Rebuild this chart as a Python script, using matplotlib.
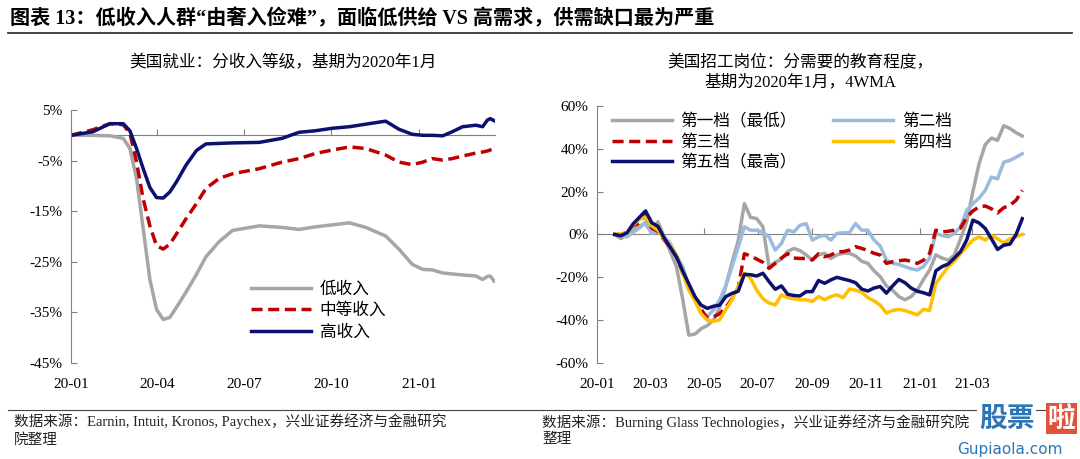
import matplotlib.pyplot as plt
import matplotlib.dates as mdates
import numpy as np
import pandas as pd

plt.rcParams['font.family'] = ['Liberation Serif', 'Noto Sans CJK SC']

# ---- left: US employment by income level, index base Jan 2020 (%) ----
emp_dates = pd.to_datetime([
    '2020-01-01', '2020-01-24', '2020-02-11', '2020-02-25', '2020-03-03', '2020-03-10',
    '2020-03-17', '2020-03-24', '2020-03-31', '2020-04-07', '2020-04-14', '2020-04-21',
    '2020-05-01', '2020-05-12', '2020-05-22', '2020-06-05', '2020-06-19', '2020-07-17',
    '2020-08-10', '2020-08-28', '2020-09-14', '2020-10-02', '2020-10-20', '2020-11-06',
    '2020-11-27', '2020-12-11', '2020-12-25', '2021-01-05', '2021-01-15', '2021-01-26',
    '2021-02-05', '2021-02-16', '2021-03-02', '2021-03-09', '2021-03-14', '2021-03-17',
    '2021-03-21'])
emp_low = [0, 0, -0.1, -0.6, -2.6, -8.6, -18.5, -28.5, -34.4, -36.4, -36, -34,
           -31, -27.5, -24, -21, -18.8, -17.9, -18.2, -18.6, -18.1, -17.7, -17.3, -18.2,
           -19.9, -22.5, -25.5, -26.5, -26.6, -27.2, -27.4, -27.6, -27.8, -28.5, -27.9,
           -27.8, -28.8]
emp_mid = [0, 1.1, 2.3, 2.1, 0.4, -5.3, -12.6, -17.9, -21.8, -22.5, -21.5, -19.5,
           -16.5, -13.5, -10.5, -8.5, -7.6, -6.6, -5.3, -4.6, -3.6, -2.9, -2.3, -2.6,
           -3.9, -5.3, -5.8, -5.3, -4.6, -4.9, -4.6, -4.1, -3.5, -3.3, -3.1, -2.9, -2.6]
emp_high = [0, 0.7, 2.3, 2.3, 0.9, -2.6, -6.6, -10.3, -12.3, -12.4, -11.2, -9.2,
            -5.9, -3.0, -1.7, -1.6, -1.5, -1.4, -0.6, 0.6, 0.9, 1.4, 1.7, 2.2,
            2.8, 1.2, 0.2, 0, 0, -0.1, 0.7, 1.7, 2.0, 1.7, 3.0, 3.3, 2.9]
emp_labels = ['低收入', '中等收入', '高收入']
emp_ticks = ['2020-01-01', '2020-04-01', '2020-07-01', '2020-10-01', '2021-01-01']

# ---- right: job postings by required education, 4WMA (%) ----
post_dates = pd.date_range('2020-01-21', periods=67, freq='7D')
post_1 = [0, -1.9, 0, 1.5, 4, 5, 0.5, 5.9, -1, -8, -15, -30, -47, -46.5, -44, -42.5,
          -40, -34, -24, -13, -3, 14.4, 8, 7.4, 3.6, -15, -13, -11.5, -8, -6.5, -7.5,
          -9.5, -11.9, -9.5, -8.8, -11.2, -9.5, -8.8, -8.8, -10, -12.5, -13.5, -17,
          -19.7, -24, -26, -29, -30.5, -29, -26, -21, -16.6, -9.5, -11, -12, -9.6, -2,
          6, 20, 33, 42, 45, 44, 50.8, 49.5, 47.5, 46]
post_2 = [0, -0.5, -1.1, 1, 3, 5.9, 0.5, 1.2, -1, -4.2, -10, -15, -24, -30.5, -36.7,
          -38.3, -35.2, -30.5, -24, -15, -6, 3.6, 2, 2, 1, -1.1, -7.3, -4.2, 2, 1.2,
          4.3, 5.1, -2.6, -1.1, -0.3, -2.6, 0.5, 0.8, 0.8, 5.1, 2, 2, -2.6, -5.4,
          -11.9, -13.5, -14, -15, -16, -16.6, -15, -11, 0.5, -0.5, -1.1, 0.5, 3.6,
          11.3, 14.4, 17, 20.6, 26.8, 26, 33.8, 34.6, 36.1, 37.7]
post_3 = [0, 0, 1, 4, 5.5, 9, 3, 1.5, -2.5, -6, -10.4, -18, -24, -30, -35, -39, -38.5,
          -37, -34, -30, -25, -9, -10, -11.5, -13, -15.8, -13.5, -11, -9, -11, -11.2,
          -11.2, -11.9, -9, -10.4, -9.6, -8.1, -8, -7.3, -5.7, -6.5, -7.5, -8.8, -9.6,
          -13.5, -12.7, -12.3, -11.9, -12.5, -13.5, -12, -8.8, 2, 1.2, 1.5, 2, 3, 8,
          11, 12.9, 13.3, 12, 10.1, 12.5, 13.6, 16, 20.6]
post_4 = [0, 0.2, 0.5, 4.5, 7, 8.2, 4, 2, -2, -5, -9.6, -18, -26, -31, -37, -40, -40.6,
          -39.8, -35, -30.5, -24.3, -18.1, -20.5, -26, -30, -32, -32.9, -28.2, -29.5,
          -30, -30.5, -30.5, -31.3, -29, -30.5, -29, -28.2, -29.5, -25.5, -26, -27,
          -29.5, -31, -33, -36.7, -35.5, -35, -35.5, -36.5, -37.5, -35, -35.5, -22.8,
          -19, -15, -12.5, -9, -5.7, -2.6, -1.1, -2.6, -0.5, -2, -4, -2, -1, 0]
post_5 = [0, -0.6, 0.8, 5, 8, 11, 5.5, 3.8, -1.5, -6, -10.4, -17, -23, -29, -33, -34.5,
          -33.5, -33, -29, -27.5, -26.5, -18.6, -18.8, -19.4, -18.1, -22, -25.6, -24,
          -27.9, -28.5, -28.7, -26.7, -26.7, -21.5, -22.8, -21.2, -20, -20.8, -21.5,
          -22.5, -25.5, -26.4, -25, -24.3, -27.4, -24, -21, -22.5, -25, -26.5, -27.2,
          -28.2, -17, -15, -13.8, -11, -8, -2.6, 6.7, 5.4, 2.8, -2, -7, -5, -4.5, 0, 7.4]
post_labels = ['第一档（最低）', '第二档', '第三档', '第四档', '第五档（最高）']
post_ticks = ['2020-01-01', '2020-03-01', '2020-05-01', '2020-07-01', '2020-09-01',
              '2020-11-01', '2021-01-01', '2021-03-01']

GREY, RED, NAVY = '#A6A6A6', '#C00000', '#0C1170'
LBLUE, GOLD = '#9BBBDE', '#FFC000'
AX_C = '#808080'
DASH = (0, (3.2, 1.6))


def style_axis(ax, ticks, ylim, yticks):
    ax.set_ylim(*ylim)
    ax.set_yticks(yticks)
    ax.set_yticklabels([f'{v}%' for v in yticks], fontsize=11)
    for s in ['top', 'right', 'bottom']:
        ax.spines[s].set_visible(False)
    ax.spines['left'].set_color(AX_C)
    ax.tick_params(axis='y', direction='in', length=4, color=AX_C, pad=6)
    tk = pd.to_datetime(ticks)
    ax.set_xticks(tk)
    ax.xaxis.set_major_formatter(mdates.DateFormatter('%y-%m'))
    ax.tick_params(axis='x', length=0, labelsize=11, pad=11)
    # zero line with small upward ticks
    loc = (0 - ylim[0]) / (ylim[1] - ylim[0])
    sec = ax.secondary_xaxis(loc)
    sec.set_xticks(tk)
    sec.spines['top'].set_color(AX_C)
    sec.spines['bottom'].set_visible(False)
    sec.tick_params(axis='x', direction='out', length=4, color=AX_C, labeltop=False,
                    labelbottom=False)


fig = plt.figure(figsize=(10.8, 4.59), dpi=100)

ax1 = fig.add_axes([0.0657, 0.2092, 0.3926, 0.5511])
ax1.plot(emp_dates, emp_low, color=GREY, lw=2.5, label=emp_labels[0])
ax1.plot(emp_dates, emp_mid, color=RED, lw=2.5, ls=DASH, label=emp_labels[1])
ax1.plot(emp_dates, emp_high, color=NAVY, lw=2.5, label=emp_labels[2])
ax1.set_xlim(pd.Timestamp('2020-01-01'), pd.Timestamp('2021-03-22'))
style_axis(ax1, emp_ticks, (-45, 5), [5, -5, -15, -25, -35, -45])
ax1.legend(loc='lower left', bbox_to_anchor=(0.39, 0.03), frameon=False,
           handlelength=3.6, labelspacing=0.25, handletextpad=0.5,
           prop={'family': ['Noto Sans CJK SC'], 'size': 12})
fig.text(0.262, 0.862, '美国就业：分收入等级，基期为2020年1月', ha='center', va='center',
         fontsize=12)

ax2 = fig.add_axes([0.5528, 0.2092, 0.3954, 0.5599])
ax2.plot(post_dates, post_1, color=GREY, lw=2.5)
ax2.plot(post_dates, post_2, color=LBLUE, lw=2.5)
ax2.plot(post_dates, post_3, color=RED, lw=2.5, ls=DASH)
ax2.plot(post_dates, post_4, color=GOLD, lw=2.5)
ax2.plot(post_dates, post_5, color=NAVY, lw=2.5)
ax2.set_xlim(pd.Timestamp('2020-01-01'), pd.Timestamp('2021-04-29'))
style_axis(ax2, post_ticks, (-60, 60), [60, 40, 20, 0, -20, -40, -60])
lines = ax2.get_lines()
order = [0, 2, 4, 1, 3]
ax2.legend([lines[i] for i in order], [post_labels[i] for i in order], ncol=2,
           loc='upper left', bbox_to_anchor=(0.0, 1.03), frameon=False,
           handlelength=3.6, labelspacing=0.2, handletextpad=0.5, columnspacing=2.2,
           prop={'family': ['Noto Sans CJK SC'], 'size': 12})
fig.text(0.741, 0.842, '美国招工岗位：分需要的教育程度，\n基期为2020年1月，4WMA', ha='center',
         va='center', fontsize=12, linespacing=1.3)

# header and footer
fig.text(0.009, 0.958, '图表 13：低收入人群“由奢入俭难”，面临低供给 VS 高需求，供需缺口最为严重',
         fontsize=14.5, fontweight='bold', va='center')
fig.add_artist(plt.Line2D([0.007, 0.993], [0.928, 0.928], color='#222222', lw=1.2))
fig.add_artist(plt.Line2D([0.007, 0.993], [0.107, 0.107], color='#444444', lw=0.8))
fig.text(0.013, 0.063, '数据来源：Earnin, Intuit, Kronos, Paychex，兴业证券经济与金融研究\n院整理',
         fontsize=10.5, va='center', linespacing=1.35, color='#222222')
fig.text(0.502, 0.063, '数据来源：Burning Glass Technologies，兴业证券经济与金融研究院\n整理',
         fontsize=10.5, va='center', linespacing=1.35, color='#222222')
fig.text(0.932, 0.088, '股票', fontsize=20, fontweight='bold', color='#2E75B6',
         ha='center', va='center', family=['Noto Sans CJK SC'],
         bbox=dict(facecolor='white', edgecolor='none', pad=1))
fig.text(0.983, 0.088, '啦', fontsize=20, fontweight='bold', color='white',
         ha='center', va='center', family=['Noto Sans CJK SC'],
         bbox=dict(facecolor='#E0533A', edgecolor='none', pad=1))
fig.text(0.935, 0.020, 'Gupiaola.com', fontsize=11, color='#2E75B6', ha='center',
         va='center', family=['DejaVu Sans'])

fig.savefig('out.png', dpi=100)
